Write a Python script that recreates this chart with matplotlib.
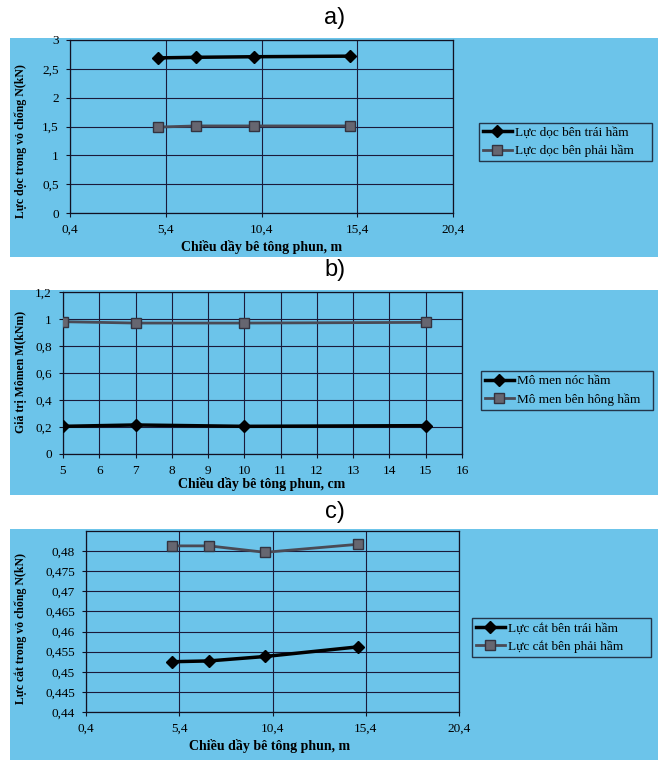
import numpy as np
import matplotlib.pyplot as plt
from matplotlib.patches import Rectangle
from matplotlib.ticker import FuncFormatter

# data
thickness = [5, 7, 10, 15]

a_left = [2.69, 2.70, 2.71, 2.72]
a_right = [1.49, 1.51, 1.51, 1.51]
a_names = ['Lực dọc bên trái hầm', 'Lực dọc bên phải hầm']

b_roof = [0.205, 0.215, 0.205, 0.21]
b_side = [0.98, 0.97, 0.97, 0.975]
b_names = ['Mô men nóc hầm', 'Mô men bên hông hầm']

c_left = [0.4525, 0.4527, 0.4538, 0.4562]
c_right = [0.4813, 0.4813, 0.4797, 0.4817]
c_names = ['Lực cắt bên trái hầm', 'Lực cắt bên phải hầm']

W, H = 664, 760
BG = '#6cc4ea'
SERIF = ['Liberation Serif', 'DejaVu Serif']
plt.rcParams['font.family'] = SERIF

fig = plt.figure(figsize=(W / 100, H / 100), dpi=100)
fig.patch.set_facecolor('white')


def fx(px):
    return px / W


def fy(py):
    return 1 - py / H


def comma(v, pos):
    s = ('%.3f' % v).rstrip('0').rstrip('.')
    return s.replace('.', ',')


def panel(top, bottom, box, title, title_y):
    fig.patches.append(Rectangle((fx(10), fy(bottom)), fx(648), (bottom - top) / H,
                                 transform=fig.transFigure, facecolor=BG,
                                 edgecolor='none', zorder=-5))
    fig.text(fx(335), fy(title_y), title, ha='center', va='center',
             fontsize=17, family=['Liberation Sans', 'DejaVu Sans'])
    l, r, t, b = box
    ax = fig.add_axes([fx(l), fy(b), (r - l) / W, (b - t) / H])
    ax.set_zorder(2)
    ax.set_facecolor(BG)
    for s in ax.spines.values():
        s.set_color('#111122')
        s.set_linewidth(0.9)
    ax.grid(True, color='#1a1a3a', linewidth=0.8)
    ax.set_axisbelow(True)
    ax.tick_params(labelsize=9.5, length=3, width=0.8, color='#111122', pad=5)
    ax.xaxis.set_major_formatter(FuncFormatter(comma))
    ax.yaxis.set_major_formatter(FuncFormatter(comma))
    return ax


def series(ax, y1, y2, names, legend_box):
    ax.plot(thickness, y1, color='black', lw=2.5, marker='D', ms=6,
            markerfacecolor='black', markeredgecolor='black', label=names[0], zorder=3)
    ax.plot(thickness, y2, color='#4a4a55', lw=2, marker='s', ms=7,
            markerfacecolor='#666670', markeredgecolor='#333340', label=names[1], zorder=3)
    l, r, t, b = legend_box
    leg = ax.legend(loc='center', bbox_to_anchor=(fx(l), fy(b), (r - l) / W, (b - t) / H),
                    bbox_transform=fig.transFigure, mode='expand', frameon=True,
                    fancybox=False, prop={'family': SERIF, 'size': 9.5},
                    handlelength=2.2, borderpad=0.3, labelspacing=0.45,
                    handletextpad=0.2, borderaxespad=0)
    leg.get_frame().set_facecolor(BG)
    leg.get_frame().set_edgecolor('#111122')
    leg.get_frame().set_linewidth(1.0)


def xlabel(text, x, y):
    fig.text(fx(x), fy(y), text, ha='center', va='center', fontsize=10,
             fontweight='bold', family=SERIF)


def ylabel(text, x, y):
    fig.text(fx(x), fy(y), text, ha='center', va='center', fontsize=8.5,
             fontweight='bold', family=SERIF, rotation=90)


# a)
ax = panel(38, 257, (70, 453, 40, 213), 'a)', 18)
series(ax, a_left, a_right, a_names, (479, 652, 122, 162))
ax.set_xlim(0.4, 20.4)
ax.set_xticks([0.4, 5.4, 10.4, 15.4, 20.4])
ax.set_ylim(0, 3)
ax.set_yticks(np.arange(0, 3.01, 0.5))
xlabel('Chiều dầy bê tông phun, m', 262, 247)
ylabel('Lực dọc trong vỏ chống N(kN)', 21, 141)

# b)
ax = panel(290, 495, (63, 462, 292, 454), 'b)', 270)
series(ax, b_roof, b_side, b_names, (481, 653, 371, 410))
ax.set_xlim(5, 16)
ax.set_xticks(range(5, 17))
ax.set_ylim(0, 1.2)
ax.set_yticks(np.arange(0, 1.21, 0.2))
xlabel('Chiều dầy bê tông phun, cm', 262, 484)
ylabel('Giá trị Mômen M(kNm)', 21, 372)

# c)
ax = panel(529, 760, (86, 459, 531, 712), 'c)', 512)
series(ax, c_left, c_right, c_names, (472, 651, 617, 658))
ax.set_xlim(0.4, 20.4)
ax.set_xticks([0.4, 5.4, 10.4, 15.4, 20.4])
ax.set_ylim(0.44, 0.485)
ax.set_yticks(np.arange(0.44, 0.4801, 0.005))
xlabel('Chiều dầy bê tông phun, m', 270, 746)
ylabel('Lực cắt trong vỏ chống N(kN)', 21, 628)

fig.savefig('out.png', dpi=100)
